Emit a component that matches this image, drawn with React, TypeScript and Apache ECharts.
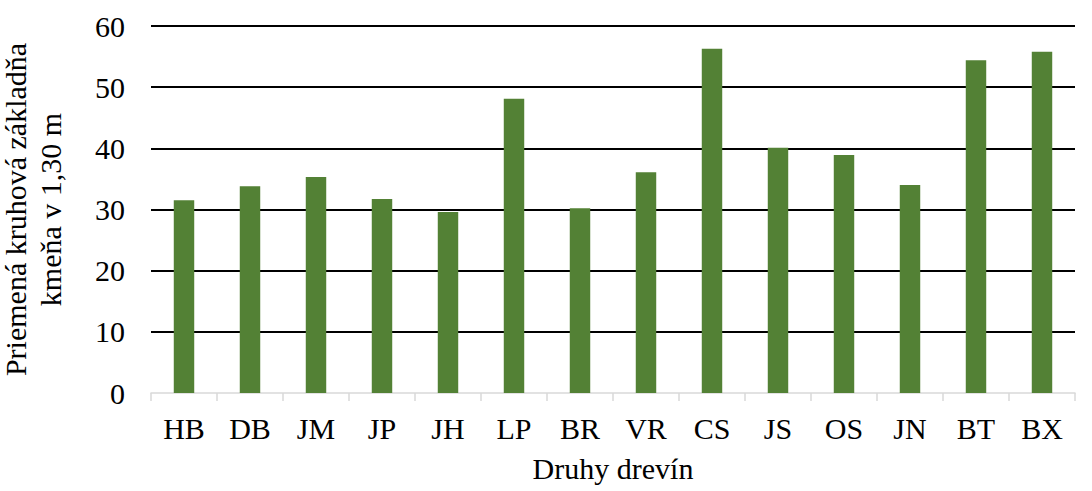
import React, { useEffect, useRef } from "react";
import * as echarts from "echarts";

const categories = ["HB", "DB", "JM", "JP", "JH", "LP", "BR", "VR", "CS", "JS", "OS", "JN", "BT", "BX"];
const values = [31.5, 33.8, 35.3, 31.7, 29.6, 48.1, 30.2, 36.1, 56.3, 40.1, 38.9, 34.0, 54.4, 55.8];
const yTicks = { min: 0, max: 60, interval: 10 };
const yAxisTitle = "Priemená kruhová základňa\nkmeňa v 1,30 m";
const xAxisTitle = "Druhy drevín";

const FONT = "'Liberation Serif', 'Times New Roman', serif";

export default function App() {
  const ref = useRef<HTMLDivElement>(null);
  useEffect(() => {
    if (!ref.current) return;
    const chart = echarts.init(ref.current, null, { renderer: "svg" });
    chart.setOption({
      animation: false,
      backgroundColor: "#ffffff",
      grid: { left: 151, right: 17, top: 26, bottom: 98, containLabel: false, outerBoundsMode: "none" },
      xAxis: {
        type: "category",
        data: categories,
        name: xAxisTitle,
        nameLocation: "middle",
        nameGap: 60,
        nameTextStyle: { fontFamily: FONT, fontSize: 30, color: "#000" },
        axisLine: { show: true, lineStyle: { color: "#d9d9d9", width: 1.5 } },
        axisTick: { show: true, length: 8, alignWithLabel: false, lineStyle: { color: "#d9d9d9", width: 1.5 } },
        axisLabel: { fontFamily: FONT, fontSize: 30, color: "#000", margin: 20, interval: 0 },
      },
      yAxis: {
        type: "value",
        min: yTicks.min,
        max: yTicks.max,
        interval: yTicks.interval,
        name: yAxisTitle,
        nameLocation: "middle",
        nameGap: 83,
        nameTextStyle: { fontFamily: FONT, fontSize: 30, color: "#000", lineHeight: 35 },
        axisLine: { show: false },
        axisTick: { show: false },
        axisLabel: { fontFamily: FONT, fontSize: 30, color: "#000", margin: 26 },
        splitLine: { show: true, showMinLine: false, lineStyle: { color: "#000", width: 2 } },
      },
      series: [
        {
          type: "bar",
          data: values,
          barWidth: "31%",
          itemStyle: { color: "#538135" },
        },
      ],
    });
    return () => chart.dispose();
  }, []);
  return <div ref={ref} style={{ position: "fixed", left: 0, top: 0, width: 1092, height: 491 }} />;
}
